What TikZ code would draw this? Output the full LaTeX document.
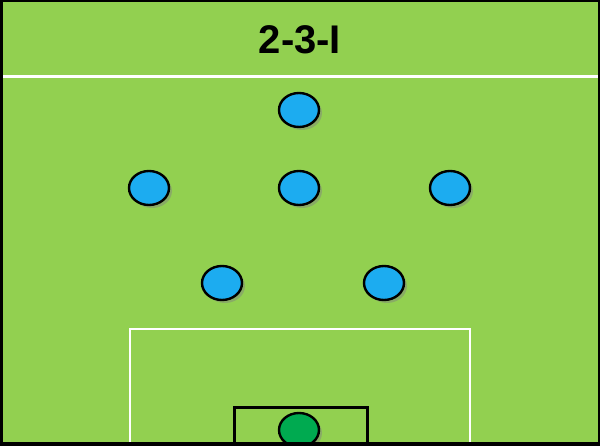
\documentclass[tikz,border=0pt]{standalone}
\usepackage{fontspec}
\setsansfont{Liberation Sans}
\usetikzlibrary{shapes.geometric, shadows}
\definecolor{pitch}{RGB}{146,208,80}
\definecolor{shirt}{RGB}{28,172,240}
\definecolor{keeper}{RGB}{0,170,80}

\begin{document}
\begin{tikzpicture}[x=1pt, y=-1pt,
    player/.style={ellipse, draw=black, line width=2.4pt, fill=shirt, minimum width=40pt, minimum height=34pt, inner sep=0pt,
      drop shadow={shadow xshift=3pt, shadow yshift=-3pt, opacity=0.45}},
    chalk/.style={draw=white, line width=2pt}]
  \useasboundingbox (0, 0) rectangle (600, 446);
  \begin{scope}
    \clip (0, 0) rectangle (600, 446);
    \fill[pitch] (0, 0) rectangle (600, 446);
    \node[font=\sffamily\bfseries\fontsize{40}{40}\selectfont] (title) at (300, 40) {2-3-I};
    \draw[chalk, line width=3pt] (0, 77) -- (600, 77);
    \draw[chalk] (130, 446) -- (130, 329) -- (470, 329) -- (470, 446);
    \draw[line width=3pt] (234, 446) -- (234, 407) -- (367, 407) -- (367, 446);
    % attackers
    \node[player] (st) at (299, 110) {};
    \node[player] (lm) at (149, 188) {};
    \node[player] (cm) at (299, 188) {};
    \node[player] (rm) at (450, 188) {};
    \node[player] (lb) at (222, 283) {};
    \node[player] (rb) at (384, 283) {};
    % keeper
    \node[player, fill=keeper] (gk) at (299, 430) {};
    \draw[line width=4pt] (0, 444) -- (600, 444);
    \draw[line width=2pt] (0, 1) -- (600, 1);
    \draw[line width=3pt] (1.5, 0) -- (1.5, 446);
    \draw[line width=2.5pt] (598.75, 0) -- (598.75, 446);
  \end{scope}
\end{tikzpicture}
\end{document}
